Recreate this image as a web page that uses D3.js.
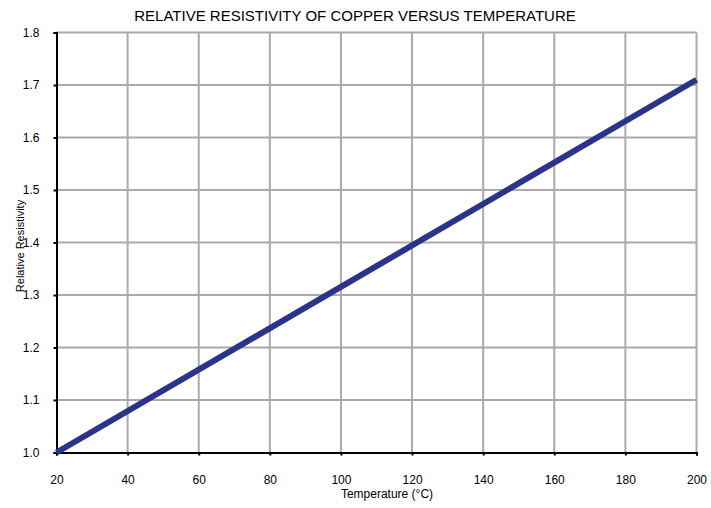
<!DOCTYPE html>
<html><head><meta charset="utf-8">
<script src="https://cdn.jsdelivr.net/npm/d3@7"></script>
<style>body{margin:0;background:#fff}svg{display:block}text{font-family:"Liberation Sans",Arial,Helvetica,sans-serif;fill:#000}</style>
</head><body><svg id="c" width="711" height="508"></svg>
<script>
const temps = [20, 200];
const resistivity = [1.0, 1.71];
const xTicks = [20, 40, 60, 80, 100, 120, 140, 160, 180, 200];
const yTicks = [1.0, 1.1, 1.2, 1.3, 1.4, 1.5, 1.6, 1.7, 1.8];
const title = "RELATIVE RESISTIVITY OF COPPER VERSUS TEMPERATURE";
const xTitle = "Temperature (°C)";
const yTitle = "Relative Resistivity";

const svg = d3.select("#c");
const L = 56.5, R = 696.5, T = 32.5, B = 452.5;
const x = d3.scaleLinear().domain([20, 200]).range([L, R]);
const y = d3.scaleLinear().domain([1.0, 1.8]).range([B, T]);

// grid
svg.append("g").selectAll("line").data(xTicks.slice(1)).join("line")
  .attr("x1", d => x(d)).attr("x2", d => x(d)).attr("y1", T).attr("y2", B)
  .attr("stroke", "#aaa").attr("stroke-width", 2);
svg.append("g").selectAll("line").data(yTicks.slice(1)).join("line")
  .attr("y1", d => y(d)).attr("y2", d => y(d)).attr("x1", L).attr("x2", R)
  .attr("stroke", "#aaa").attr("stroke-width", 2);

// axes
const xa = svg.append("g").attr("transform", `translate(0,${B})`)
  .call(d3.axisBottom(x).tickValues(xTicks).tickSize(3).tickPadding(20).tickFormat(d3.format("d")));
const ya = svg.append("g").attr("transform", `translate(${L},0)`)
  .call(d3.axisLeft(y).tickValues(yTicks).tickSize(3).tickPadding(14).tickFormat(d3.format(".1f")));
[xa, ya].forEach(g => {
  g.select(".domain").attr("stroke", "#000").attr("stroke-width", 2);
  g.selectAll(".tick line").attr("stroke", "#000").attr("stroke-width", 2);
  g.selectAll(".tick text").style("font-size", "12px").attr("fill", "#000")
   .style("font-family", '"Liberation Sans",Arial,sans-serif');
});

// line
const pts = temps.map((t, i) => [t, resistivity[i]]);
svg.append("path").datum(pts)
  .attr("d", d3.line().x(d => x(d[0])).y(d => y(d[1])))
  .attr("fill", "none").attr("stroke", "#2b3488").attr("stroke-width", 6);

// titles
svg.append("text").attr("x", 355).attr("y", 21).attr("text-anchor", "middle")
  .style("font-size", "15px").text(title);
svg.append("text").attr("x", 387).attr("y", 498).attr("text-anchor", "middle")
  .style("font-size", "12px").text(xTitle);
svg.append("text").attr("transform", "translate(24,246) rotate(-90)").attr("text-anchor", "middle")
  .style("font-size", "11px").text(yTitle);
</script></body></html>
